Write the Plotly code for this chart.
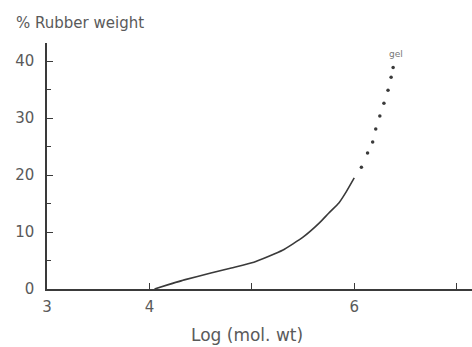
import plotly.graph_objects as go

# Solid part of the curve (log mol. wt, % rubber weight)
solid_x = [4.05, 4.34, 4.60, 4.80, 5.02, 5.30, 5.50, 5.66, 5.75, 5.85, 5.92, 6.00]
solid_y = [0.0, 1.6, 2.8, 3.7, 4.7, 6.8, 9.1, 11.6, 13.3, 15.1, 17.0, 19.5]
# Dotted part (gel region)
dot_x = [6.07, 6.13, 6.18, 6.21, 6.25, 6.29, 6.33, 6.36, 6.38]
dot_y = [21.4, 23.9, 25.8, 28.1, 30.4, 32.6, 34.9, 37.2, 38.9]

x_ticks = [3, 4, 5, 6, 7]
x_ticktext = ["3", "4", "", "6", ""]
y_ticks = [0, 10, 20, 30, 40]

ink = "#3a3a3a"
txt = "#5a5a5a"
font = "DejaVu Sans"

fig = go.Figure()
fig.add_trace(go.Scatter(x=solid_x, y=solid_y, mode="lines",
                         line=dict(color=ink, width=1.6, shape="spline", smoothing=0.4),
                         showlegend=False, hoverinfo="skip"))
fig.add_trace(go.Scatter(x=dot_x, y=dot_y, mode="markers",
                         marker=dict(color=ink, size=3.5, symbol="circle"),
                         showlegend=False, hoverinfo="skip"))

fig.add_annotation(x=6.41, y=41.2, text="gel", showarrow=False,
                   font=dict(size=9, color="#777777", family=font))
fig.add_annotation(xref="paper", yref="paper", x=-0.078, y=1.081,
                   xanchor="left", yanchor="middle", text="% Rubber weight",
                   showarrow=False, font=dict(size=15, color=txt, family=font))
fig.add_annotation(xref="paper", yref="paper", x=0.47, y=-0.187,
                   xanchor="center", yanchor="middle", text="Log (mol. wt)",
                   showarrow=False, font=dict(size=17, color=txt, family=font))

fig.update_layout(
    width=472, height=347,
    margin=dict(l=47, r=0, t=43, b=58),
    paper_bgcolor="white", plot_bgcolor="white",
    font=dict(family=font, size=15, color=txt),
    xaxis=dict(range=[3, 7.15], tickvals=x_ticks, ticktext=x_ticktext,
               ticks="inside", ticklen=6, tickwidth=1.3, tickcolor=ink,
               showline=True, linecolor=ink, linewidth=1.5,
               showgrid=False, zeroline=False, ticklabelstandoff=3,
               tickfont=dict(size=15, color=txt, family=font)),
    yaxis=dict(range=[0, 43.2], tickvals=y_ticks,
               ticks="inside", ticklen=6, tickwidth=1.3, tickcolor=ink,
               minor=dict(dtick=5, ticks="inside", ticklen=4, tickcolor=ink, tickwidth=1.2),
               showline=True, linecolor=ink, linewidth=1.5,
               showgrid=False, zeroline=False, ticklabelstandoff=8,
               tickfont=dict(size=15, color=txt, family=font)),
)

fig.write_html("out.html")
